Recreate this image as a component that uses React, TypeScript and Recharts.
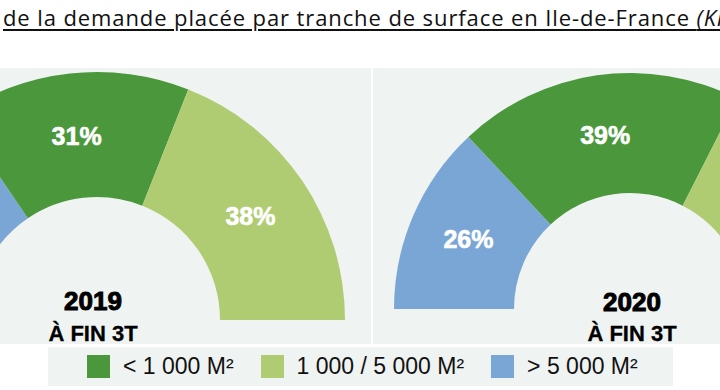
import React from 'react';
import { PieChart, Pie, Cell, Legend, Customized } from 'recharts';

// size bands, drawn from 180° (left) to 0° (right)
const categories = ['> 5 000 M²', '< 1 000 M²', '1 000 / 5 000 M²'];
const values2019 = [31, 31, 38];
const values2020 = [26, 39, 35];
const years = ['2019', '2020'];
const subtitle = 'À FIN 3T';
const legendOrder = [1, 2, 0];

const COLORS = ['#7aa6d6', '#4a983b', '#afcc72'];
const RAD = Math.PI / 180;

const data2019 = categories.map((name, i) => ({ name, value: values2019[i] }));
const data2020 = categories.map((name, i) => ({ name, value: values2020[i] }));

const renderLabel = (props: any) => {
  const { cx, cy, midAngle, innerRadius, outerRadius, value } = props;
  const r = (innerRadius + outerRadius) / 2;
  const x = cx + r * Math.cos(-midAngle * RAD);
  const y = cy + r * Math.sin(-midAngle * RAD);
  return (
    <text
      x={x}
      y={y}
      fill="#fff"
      stroke="#fff"
      strokeWidth={0.6}
      textAnchor="middle"
      dominantBaseline="central"
      fontFamily="'Liberation Sans', Arial, sans-serif"
      fontWeight="bold"
      fontSize={25}
    >
      {`${value}%`}
    </text>
  );
};

// year captions inside each half donut
const YearCaptions = () => {
  const spots = [
    { x: 93, y: 301, y2: 333 },
    { x: 632, y: 302, y2: 333 },
  ];
  return (
    <g fontFamily="'Liberation Sans', Arial, sans-serif" fontWeight="bold" fill="#000">
      {years.map((yr, i) => (
        <g key={yr}>
          <text x={spots[i].x} y={spots[i].y} textAnchor="middle" dominantBaseline="central" fontSize={26} stroke="#000" strokeWidth={1}>
            {yr}
          </text>
          <text x={spots[i].x} y={spots[i].y2} textAnchor="middle" dominantBaseline="central" fontSize={22} stroke="#000" strokeWidth={0.3}>
            {subtitle}
          </text>
        </g>
      ))}
    </g>
  );
};

const LegendContent = () => (
  <div
    style={{
      display: 'flex',
      alignItems: 'center',
      height: '100%',
      background: '#eff3f2',
      fontFamily: "'Liberation Sans', Arial, sans-serif",
      fontSize: 23,
      color: '#111',
    }}
  >
    {legendOrder.map((idx, k) => (
      <div key={idx} style={{ display: 'flex', alignItems: 'center', marginLeft: k === 0 ? 39 : 27 }}>
        <div style={{ width: 23, height: 23, background: COLORS[idx], marginRight: 13 }} />
        <span>{categories[idx]}</span>
      </div>
    ))}
  </div>
);

export default function App() {
  return (
    <div style={{ position: 'absolute', left: 0, top: 0, width: 720, height: 390, overflow: 'hidden', background: '#fff' }}>
      <div
        style={{
          position: 'absolute',
          left: 3,
          top: 2,
          whiteSpace: 'nowrap',
          fontFamily: "'Open Sans', sans-serif",
          fontSize: 22,
          letterSpacing: 0.9,
          color: '#111',
          textDecoration: 'underline',
          textUnderlineOffset: 3,
        }}
      >
        de la demande placée par tranche de surface en Ile-de-France <i>(Knight Frank)</i>
      </div>
      <div style={{ position: 'absolute', left: 0, top: 68, width: 371, height: 276, background: '#eff3f2' }} />
      <div style={{ position: 'absolute', left: 373, top: 68, width: 347, height: 276, background: '#eff3f2' }} />
      <div style={{ position: 'absolute', left: 0, top: 0 }}>
        <PieChart width={720} height={390} margin={{ top: 0, right: 0, bottom: 0, left: 0 }}>
          <Pie
            data={data2019}
            dataKey="value"
            cx={97}
            cy={320}
            startAngle={180}
            endAngle={0}
            innerRadius={123}
            outerRadius={248}
            stroke="none"
            label={renderLabel}
            labelLine={false}
            isAnimationActive={false}
          >
            {data2019.map((d, i) => (
              <Cell key={`a-${i}`} fill={COLORS[i]} />
            ))}
          </Pie>
          <Pie
            data={data2020}
            dataKey="value"
            cx={630}
            cy={309}
            startAngle={180}
            endAngle={0}
            innerRadius={116}
            outerRadius={236}
            stroke="none"
            label={renderLabel}
            labelLine={false}
            isAnimationActive={false}
          >
            {data2020.map((d, i) => (
              <Cell key={`b-${i}`} fill={COLORS[i]} />
            ))}
          </Pie>
          <Customized component={YearCaptions} />
          <Legend
            content={<LegendContent />}
            wrapperStyle={{ position: 'absolute', left: 48, top: 347, width: 625, height: 39, bottom: 'auto' }}
          />
        </PieChart>
      </div>
    </div>
  );
}
